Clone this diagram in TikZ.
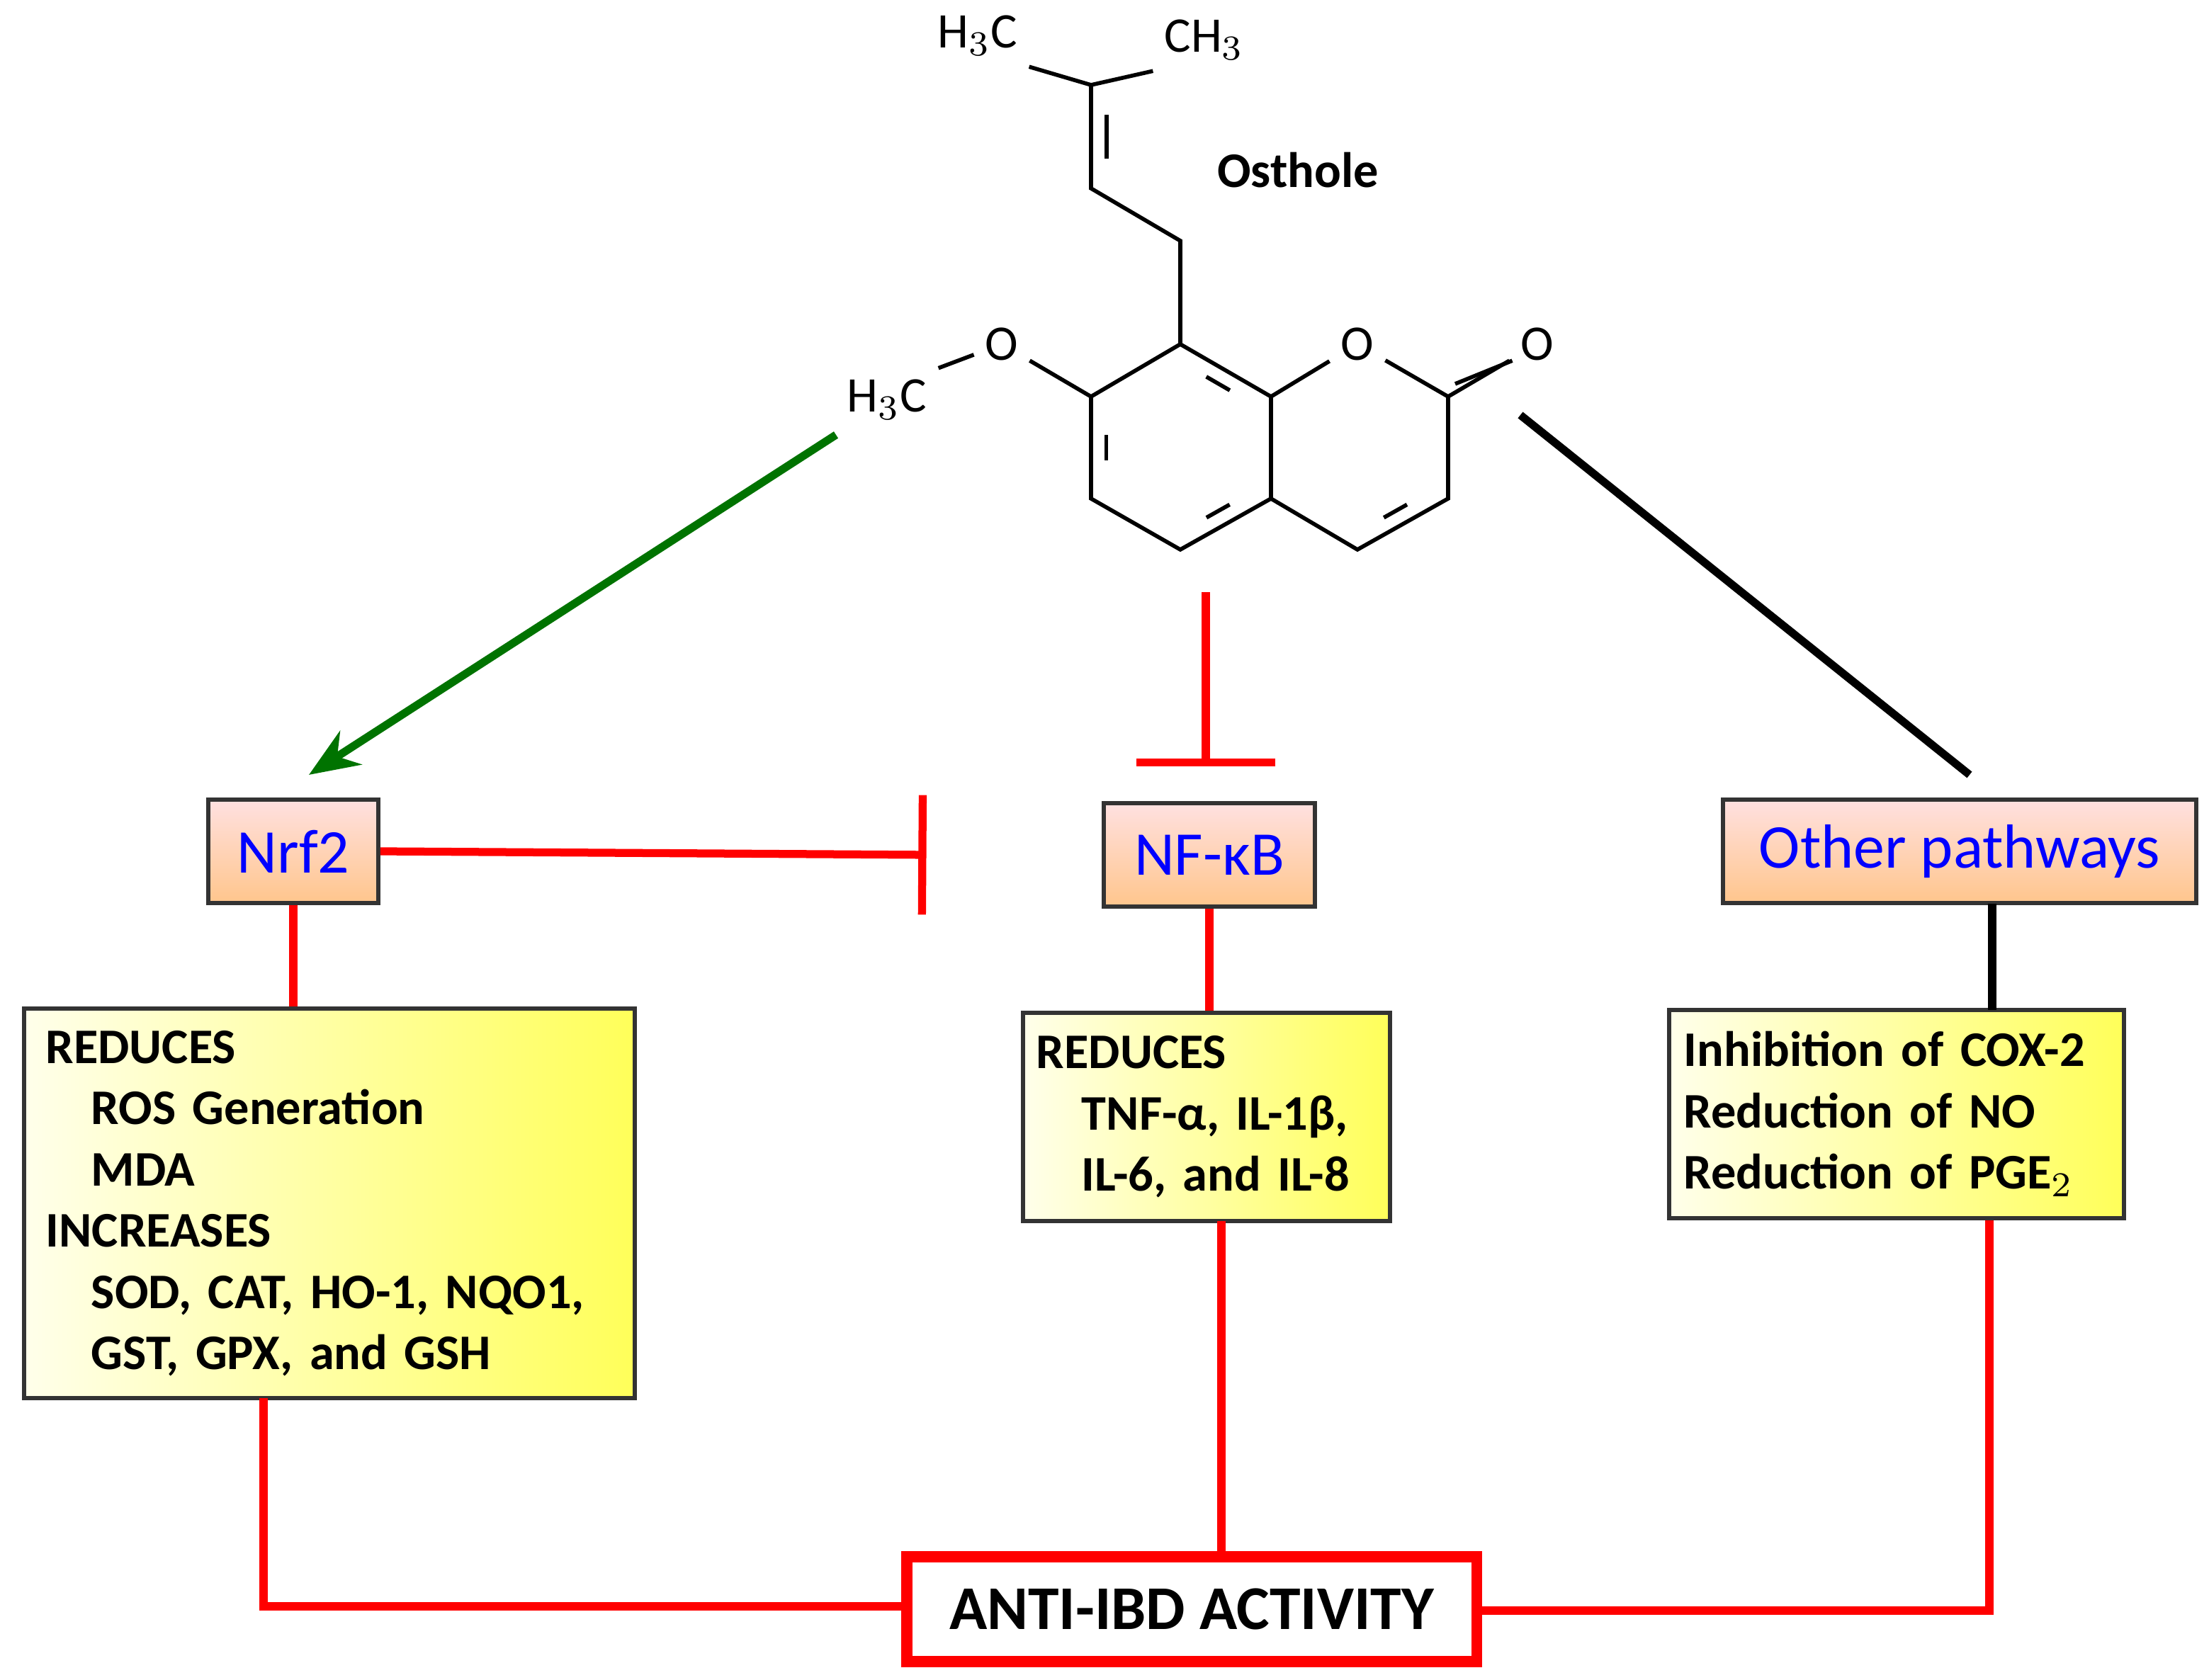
\documentclass[tikz,border=0pt]{standalone}
\usepackage{fontspec}
\setmainfont{Carlito}
\usetikzlibrary{arrows.meta,calc,positioning}

\begin{document}
\begin{tikzpicture}[x=0.01cm,y=-0.01cm,line width=1.6pt,
path node/.style={draw=black!80,line width=0.8pt,top color=red!12,bottom color=orange!45,
  text=blue,font=\fontsize{12.5}{14}\selectfont,inner sep=0pt},
effect box/.style={draw=black!80,line width=0.8pt,shading angle=135,left color=yellow!8,right color=yellow!65,
  font=\bfseries\fontsize{10}{12.3}\selectfont,align=left,inner sep=0pt},
atom/.style={font=\fontsize{10}{12}\selectfont,inner sep=1.5pt},
bond/.style={line width=0.8pt},
inner bond/.style={line width=0.8pt,shorten >=6pt,shorten <=6pt}]
\useasboundingbox (0,0) rectangle (1559,1186);

% molecule
\coordinate (C8) at (833,243);
\coordinate (C8a) at (897,280);
\coordinate (C4a) at (897,352);
\coordinate (C5) at (833,388);
\coordinate (C6) at (770,352);
\coordinate (C7) at (770,280);
\coordinate (C2) at (1022,280);
\coordinate (C3) at (1022,352);
\coordinate (C4) at (958,388);
\coordinate (Bz) at (833.5,316);
\coordinate (Py) at (959.5,316);
\coordinate (P1) at (833,170);
\coordinate (P2) at (770,133);
\coordinate (P3) at (770,60);
\node[atom] (O1) at (958,243) {O};
\node[atom] (O2) at (1085,243) {O};
\node[atom] (Om) at (707,243) {O};
\node[atom] (Me) at (626,282) {H$_3$C};
\node[atom] (Mt1) at (690,25) {H$_3$C};
\node[atom] (Mt2) at (850,28) {CH$_3$};
\node[font=\bfseries\fontsize{10}{12}\selectfont] (name) at (916,120) {Osthole};

\draw[bond] (C8) -- (C8a) -- (C4a) -- (C5) -- (C6) -- (C7) -- (C8);
\draw[bond] (C8a) -- (O1) -- (C2) -- (C3) -- (C4) -- (C4a);
\draw[bond] (C7) -- (Om) -- (Me.north east);
\draw[bond] (C8) -- (P1) -- (P2) -- (P3);
\draw[bond] (P3) -- (Mt1.south east);
\draw[bond] (P3) -- (Mt2.south west);
\draw[inner bond] ($(C8)!0.17!(Bz)$) -- ($(C8a)!0.17!(Bz)$);
\draw[inner bond] ($(C6)!0.17!(Bz)$) -- ($(C7)!0.17!(Bz)$);
\draw[inner bond] ($(C5)!0.17!(Bz)$) -- ($(C4a)!0.17!(Bz)$);
\draw[inner bond] ($(C3)!0.17!(Py)$) -- ($(C4)!0.17!(Py)$);
\draw[bond] (C2) -- (O2);
\draw[bond] ($(C2)+(5,-9)$) -- ($(O2.south west)+(2,-8)$);
\draw[inner bond] ($(P2)+(11,0)$) -- ($(P3)+(11,0)$);

% pathways
\node[path node,minimum width=1.2cm,minimum height=0.73cm] (nrf) at (207,601) {Nrf2};
\node[path node,minimum width=1.49cm,minimum height=0.73cm] (nfkb) at (853.5,603.5) {NF-κB};
\node[path node,minimum width=3.34cm,minimum height=0.73cm] (other) at (1383,601) {Other pathways};

\node[effect box,minimum width=4.31cm,minimum height=2.75cm,text width=4.0cm] (nrfbox) at (232.5,849.5)
 {REDUCES\\\hspace*{0.32cm}ROS Generation\\\hspace*{0.32cm}MDA\\INCREASES\\\hspace*{0.32cm}SOD, CAT, HO-1, NQO1,\\\hspace*{0.32cm}GST, GPX, and GSH};
\node[effect box,minimum width=2.59cm,minimum height=1.47cm,text width=2.4cm] (nfbox) at (851.5,788.5)
 {REDUCES\\\hspace*{0.32cm}TNF-α, IL-1β,\\\hspace*{0.32cm}IL-6, and IL-8};
\node[effect box,minimum width=3.21cm,minimum height=1.47cm,text width=3.0cm] (otherbox) at (1338.5,786.5)
 {Inhibition of COX-2\\Reduction of NO\\Reduction of PGE$_2$};
\node[draw=red,line width=2.2pt,fill=white,minimum width=4.02cm,minimum height=0.74cm,
  font=\bfseries\fontsize{12.5}{14}\selectfont] (anti) at (841,1136) {ANTI-IBD ACTIVITY};

% connectors
\coordinate (gA) at (590,307);
\coordinate (gB) at (218,547);
\coordinate (rA) at (851,418);
\coordinate (rB) at (851,541);
\coordinate (kA) at (1073,293);
\coordinate (kB) at (1390,547);
\coordinate (lc) at (186,1134);
\coordinate (rc) at (1404,1137);
\draw[green!45!black,-{Stealth[length=10pt,width=8pt]}] (gA) -- (gB);
\draw[red,-{Bar[width=28pt]}] (rA) -- (rB);
\draw[black] (kA) -- (kB);
\draw[red,-{Bar[width=24pt]}] (nrf.east) -- ([xshift=-22\pgflinewidth]nfkb.west);
\draw[red] (nrf.south) -- (nrf.south |- nrfbox.north);
\draw[red] (nfkb.south) -- (nfkb.south |- nfbox.north);
\draw[black] (1406,638) -- (1406,713);
\draw[red] (186,987) -- (lc) -- (anti.west |- lc);
\draw[red] (862,862) -- (anti.north -| 862,862);
\draw[red] (otherbox.south -| rc) -- (rc) -- (anti.east |- rc);
\end{tikzpicture}
\end{document}
